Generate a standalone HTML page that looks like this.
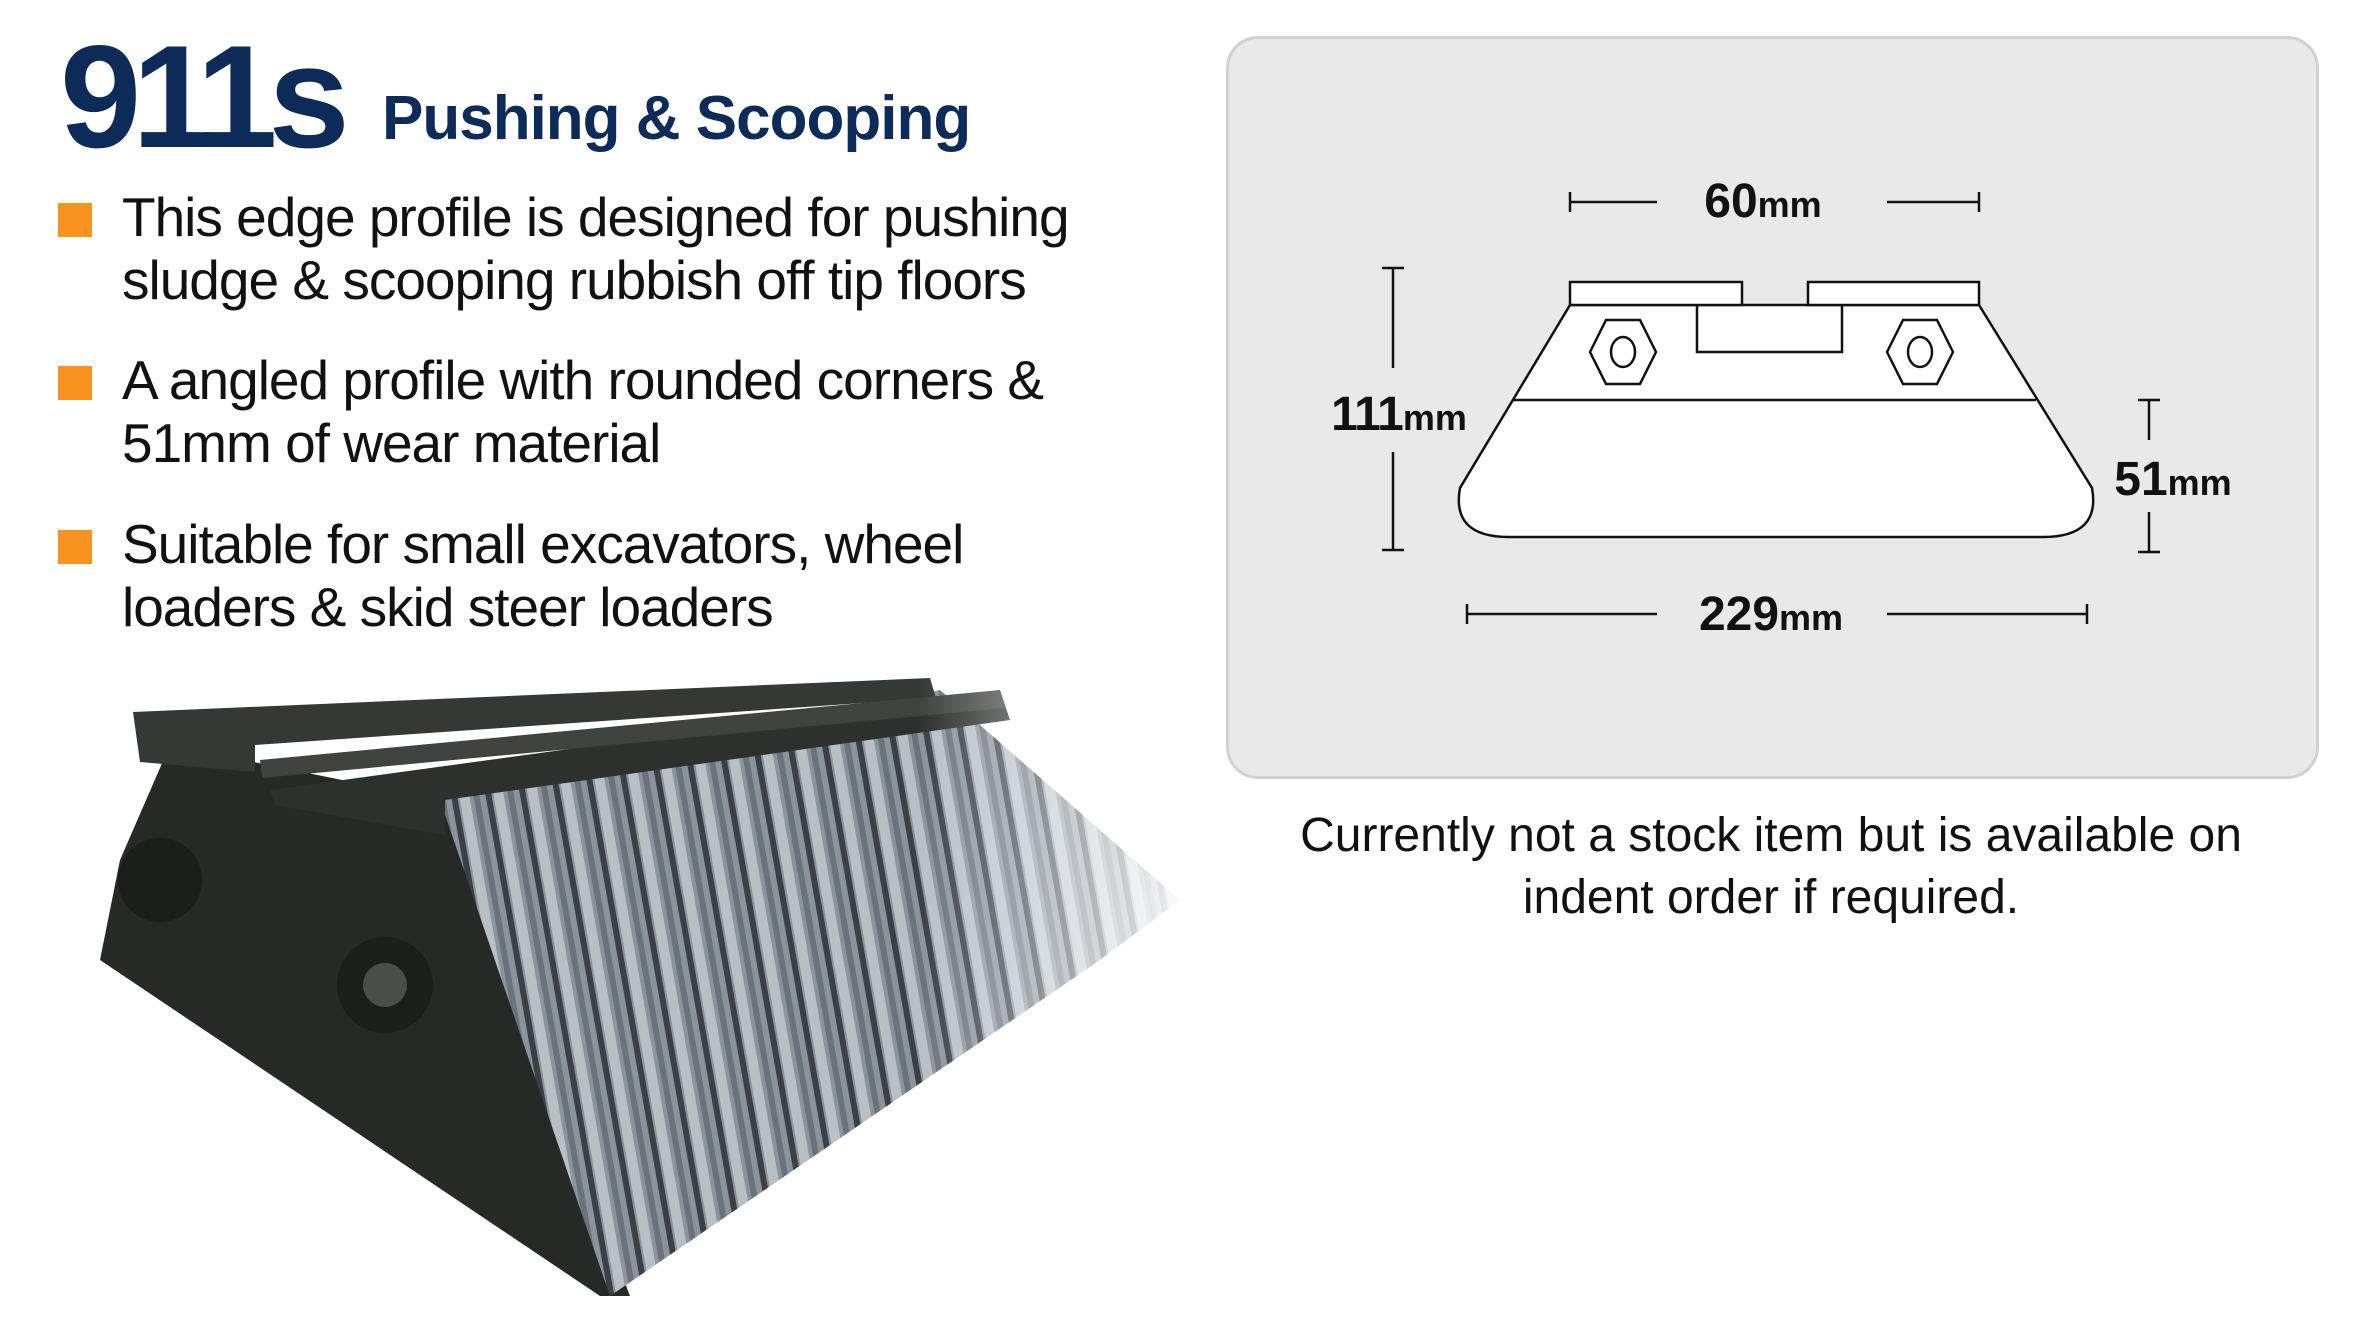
<!DOCTYPE html>
<html><head><meta charset="utf-8"><style>
html,body{margin:0;padding:0;background:#fff;}
body{width:2359px;height:1318px;position:relative;overflow:hidden;font-family:"Liberation Sans",sans-serif;}
.t{position:absolute;white-space:nowrap;}
.sq{position:absolute;left:58px;width:34px;height:34px;background:#f7931e;}
.bl{position:absolute;left:122px;font-size:55px;color:#111;line-height:63px;white-space:nowrap;letter-spacing:-1px;}
</style></head><body>
<div class="t" style="left:60px;top:12px;font-size:146px;font-weight:bold;color:#0d2b59;letter-spacing:-9px;line-height:170px;">911s</div>
<div class="t" style="left:382px;top:84px;font-size:62px;font-weight:bold;color:#0d2b59;line-height:70px;letter-spacing:-1px;">Pushing &amp; Scooping</div>

<div class="sq" style="top:203px"></div>
<div class="bl" style="top:186px">This edge profile is designed for pushing<br>sludge &amp; scooping rubbish off tip floors</div>
<div class="sq" style="top:366px"></div>
<div class="bl" style="top:349px">A angled profile with rounded corners &amp;<br>51mm of wear material</div>
<div class="sq" style="top:530px"></div>
<div class="bl" style="top:513px">Suitable for small excavators, wheel<br>loaders &amp; skid steer loaders</div>

<svg style="position:absolute;left:0;top:0" width="2359" height="1318">
<defs>
<pattern id="st" width="34" height="40" patternUnits="userSpaceOnUse" patternTransform="rotate(-10)">
<rect width="34" height="40" fill="#8a949c"/>
<rect x="0" width="6" height="40" fill="#3a4046"/>
<rect x="8" width="10" height="40" fill="#b8c0c6"/>
<rect x="22" width="6" height="40" fill="#6a737b"/>
</pattern>
<linearGradient id="fade" x1="0" y1="0" x2="1" y2="0">
<stop offset="0" stop-color="#fff" stop-opacity="0"/>
<stop offset="0.5" stop-color="#fff" stop-opacity="0"/>
<stop offset="1" stop-color="#fff" stop-opacity="1"/>
</linearGradient>
</defs>
<polygon points="170,745 120,860 100,960 600,1296 630,1296 440,800" fill="#262a27"/>
<polygon points="440,800 940,690 1180,900 1100,960 610,1296" fill="url(#st)"/>
<polygon points="270,790 1000,690 1010,720 445,800 445,835 275,805" fill="#2d312e"/>
<polygon points="133,712 930,678 936,698 255,745 255,772 140,762" fill="#353936"/>
<polygon points="260,760 1000,690 1005,708 262,778" fill="#3f4440"/>
<circle cx="160" cy="880" r="42" fill="#1c1e1c"/>
<circle cx="385" cy="985" r="48" fill="#1c1e1c"/>
<circle cx="385" cy="985" r="22" fill="#4a4e4a"/>
<rect x="640" y="640" width="560" height="680" fill="url(#fade)"/>
</svg>

<div style="position:absolute;left:1226px;top:36px;width:1087px;height:737px;background:#e8e9e8;border:3px solid #d0d1d0;border-radius:32px;"></div>
<svg style="position:absolute;left:0;top:0" width="2359" height="1318">
<g transform="translate(-11,0)">
<g stroke="#111" stroke-width="2.5" fill="none">
<line x1="1581" y1="202" x2="1668" y2="202"/><line x1="1581" y1="192" x2="1581" y2="212"/>
<line x1="1898" y1="202" x2="1990" y2="202"/><line x1="1990" y1="192" x2="1990" y2="212"/>
<path d="M1581,305 L1471,488 Q1462,537 1520,537 L2054,537 Q2112,537 2103,488 L1990,305 Z" fill="#fff"/>
<rect x="1581" y="282" width="172" height="23" fill="#fff"/>
<rect x="1819" y="282" width="171" height="23" fill="#fff"/>
<polyline points="1708,305 1708,352 1853,352 1853,305"/>
<line x1="1524" y1="400" x2="2047" y2="400"/>
<polygon points="1601,352 1617,320 1651,320 1667,352 1651,384 1617,384"/>
<ellipse cx="1634" cy="352" rx="12" ry="15"/>
<polygon points="1898,352 1914,320 1948,320 1964,352 1948,384 1914,384"/>
<ellipse cx="1931" cy="352" rx="12" ry="15"/>
<line x1="1404" y1="268" x2="1404" y2="368"/><line x1="1404" y1="452" x2="1404" y2="550"/>
<line x1="1393" y1="268" x2="1415" y2="268"/><line x1="1393" y1="550" x2="1415" y2="550"/>
<line x1="2160" y1="400" x2="2160" y2="440"/><line x1="2160" y1="512" x2="2160" y2="552"/>
<line x1="2149" y1="400" x2="2171" y2="400"/><line x1="2149" y1="552" x2="2171" y2="552"/>
<line x1="1478" y1="614" x2="1668" y2="614"/><line x1="1478" y1="604" x2="1478" y2="624"/>
<line x1="1898" y1="614" x2="2098" y2="614"/><line x1="2098" y1="604" x2="2098" y2="624"/>
</g>
<g font-family="Liberation Sans, sans-serif" font-weight="bold" fill="#111">
<text x="1774" y="217" text-anchor="middle" font-size="48">60<tspan font-size="36">mm</tspan></text>
<text x="1410" y="430" text-anchor="middle" font-size="48" letter-spacing="-1">111<tspan font-size="36" letter-spacing="0">mm</tspan></text>
<text x="2184" y="495" text-anchor="middle" font-size="48">51<tspan font-size="36">mm</tspan></text>
<text x="1782" y="630" text-anchor="middle" font-size="48">229<tspan font-size="36">mm</tspan></text>
</g>
</g>
<g font-family="Liberation Sans, sans-serif" font-size="48" fill="#111" text-anchor="middle">
<text x="1771" y="851">Currently not a stock item but is available on</text>
<text x="1771" y="913">indent order if required.</text>
</g>
</svg>
</body></html>
